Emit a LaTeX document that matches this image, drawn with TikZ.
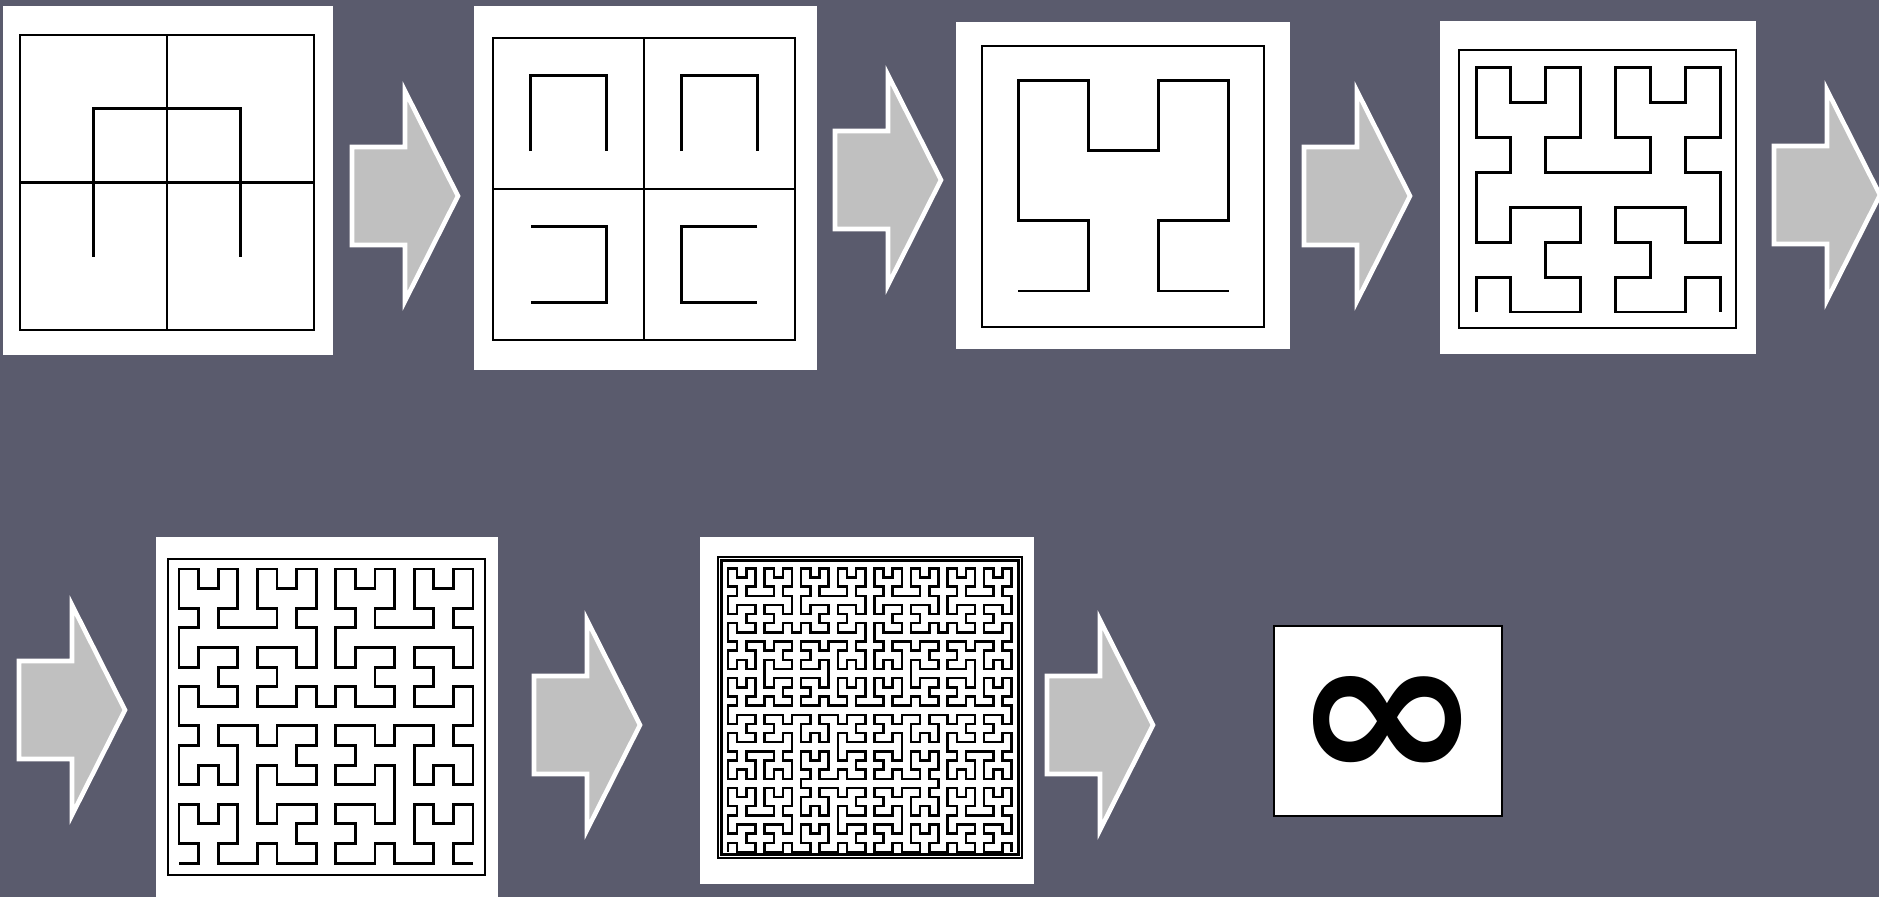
\documentclass[tikz,border=0pt]{standalone}
\usepackage{fontspec}
\usepackage{graphicx}
\usetikzlibrary{lindenmayersystems}
\newfontfamily\symfont{DejaVu Sans}
\definecolor{slidebg}{HTML}{5A5B6D}
\definecolor{arrowgray}{HTML}{C0C0C0}

\pgfdeclarelindenmayersystem{hilbert}{
  \rule{A -> +BF-AFA-FB+}
  \rule{B -> -AF+BFB+FA-}}

\newcommand\blockarrow[1]{%
  \draw[blk] (#1) ++(0.02,0.49) -- ++(0.53,0) -- ++(0,0.56) -- ++(0.53,-1.05)
    -- ++(-0.53,-1.05) -- ++(0,0.56) -- ++(-0.53,0) -- cycle;}

\begin{document}
\begin{tikzpicture}[
  pn/.style={fill=white,inner sep=0pt,outer sep=0pt},
  fr/.style={draw=black,line width=0.8pt},
  cv/.style={draw=black,line width=0.85pt},
  blk/.style={draw=white,fill=arrowgray,line width=1.3pt,line join=miter}]
\fill[slidebg] (0,0) rectangle (18.79,8.97);
\useasboundingbox (0,0) rectangle (18.79,8.97);

% panels
\node[pn,minimum width=3.30cm,minimum height=3.49cm] (p1) at (1.68,7.165) {};
\node[pn,minimum width=3.43cm,minimum height=3.64cm] (p2) at (6.455,7.09) {};
\node[pn,minimum width=3.34cm,minimum height=3.27cm] (p3) at (11.23,7.115) {};
\node[pn,minimum width=3.16cm,minimum height=3.33cm] (p4) at (15.98,7.095) {};
\node[pn,minimum width=3.42cm,minimum height=3.70cm] (p5) at (3.27,1.75) {};
\node[pn,minimum width=3.34cm,minimum height=3.47cm] (p6) at (8.67,1.865) {};
\node[pn,draw=black,line width=0.8pt,minimum width=2.28cm,minimum height=1.90cm] (p7) at (13.88,1.76) {};
\node[inner sep=0pt] (inf) at (13.88,1.68) {\resizebox{1.90cm}{1.05cm}{\symfont\bfseries ∞}};

% order 1, with grid
\draw[fr] (0.20,5.67) rectangle (3.14,8.62);
\draw[fr] (1.67,5.67) -- (1.67,8.62) (0.20,7.145) -- (3.14,7.145);
\draw[cv] (0.935,6.405) |- (2.405,7.885) -- (2.405,6.405);

% four copies, not yet joined
\draw[fr] (4.93,5.57) rectangle (7.95,8.59);
\draw[fr] (6.44,5.57) -- (6.44,8.59) (4.93,7.08) -- (7.95,7.08);
\begin{scope}[shift={(4.93,5.57)},x=0.755cm,y=0.755cm]
  \draw[cv] (0.5,2.5) |- (1.5,3.5) -- (1.5,2.5);
  \draw[cv] (2.5,2.5) |- (3.5,3.5) -- (3.5,2.5);
  \draw[cv] (0.5,0.5) -| (1.5,1.5) -- (0.5,1.5);
  \draw[cv] (3.5,1.5) -| (2.5,0.5) -- (3.5,0.5);
\end{scope}

% orders 2 to 5
\draw[fr] (9.82,5.70) rectangle (12.64,8.51);
\begin{scope}[shift={(10.18,6.06)}]
  \draw[cv,lindenmayer system={hilbert,axiom=A,order=2,step=0.703cm,angle=90}] (0,0) lindenmayer system;
\end{scope}
\draw[fr] (14.59,5.69) rectangle (17.36,8.47);
\begin{scope}[shift={(14.76,5.85)}]
  \draw[cv,lindenmayer system={hilbert,axiom=A,order=3,step=0.349cm,angle=90}] (0,0) lindenmayer system;
\end{scope}
\draw[fr] (1.68,0.22) rectangle (4.85,3.38);
\begin{scope}[shift={(1.79,0.34)}]
  \draw[cv,lindenmayer system={hilbert,axiom=A,order=4,step=0.196cm,angle=90}] (0,0) lindenmayer system;
\end{scope}
\draw[fr] (7.18,0.39) rectangle (10.22,3.40);
\draw[fr,line width=0.7pt] (7.215,0.425) rectangle (10.185,3.365);
\begin{scope}[shift={(7.28,0.45)}]
  \draw[cv,line width=0.7pt,lindenmayer system={hilbert,axiom=A,order=5,step=0.0915cm,angle=90}] (0,0) lindenmayer system;
\end{scope}

% arrows
\coordinate (a1) at (3.50,7.01);
\coordinate (a2) at (8.33,7.17);
\coordinate (a3) at (13.02,7.01);
\coordinate (a4) at (17.72,7.02);
\coordinate (a5) at (0.17,1.87);
\coordinate (a6) at (5.32,1.72);
\coordinate (a7) at (10.45,1.72);
\foreach \a in {a1,a2,a3,a4,a5,a6,a7}
  \blockarrow{\a};
\end{tikzpicture}
\end{document}
